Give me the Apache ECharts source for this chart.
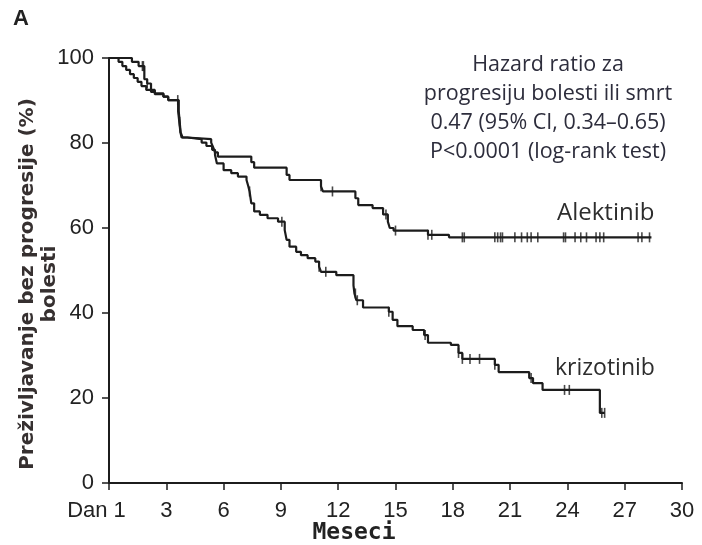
<!DOCTYPE html>
<html><head><meta charset="utf-8">
<script src="https://cdn.jsdelivr.net/npm/echarts@6/dist/echarts.min.js"></script>
<style>html,body{margin:0;padding:0;background:#fff}#c{width:702px;height:545px}</style>
</head><body><div id="c"></div>
<script>
// Kaplan-Meier steps: [month, % survival]
var alektinib = [[0,100],[1.2,99.1],[1.55,98.1],[1.85,95],[2.0,94],[2.2,92.5],[2.4,91.7],[2.85,90.9],[3.1,90.1],[3.65,87.5],[3.7,85],[3.75,82.5],[3.85,81.3],[4.1,80.9],[5.35,80.1],[5.45,79],[5.55,77.8],[5.7,76.8],[7.45,75.5],[7.6,74.2],[9.3,72.5],[9.45,71.3],[11.1,69.8],[11.2,68.6],[12.9,67],[13.05,65.4],[13.8,64.7],[14.35,63.2],[14.6,61.5],[14.7,60],[14.9,59.4],[16.7,58.4],[17.8,57.8],[28.4,57.8]];
var krizotinib = [[0,100],[0.5,99.1],[0.7,98.1],[0.9,97.2],[1.1,96.2],[1.3,95.3],[1.5,94.4],[1.7,93.4],[1.95,92.5],[2.2,92],[2.4,91.5],[2.85,90.9],[3.1,90.1],[3.62,87.5],[3.68,85],[3.74,82.5],[3.8,81.3],[4.1,80.9],[4.85,80.1],[5.1,79.3],[5.4,78.4],[5.55,77.2],[5.65,75.2],[6.0,73.6],[6.4,72.9],[6.75,72.1],[7.2,71.3],[7.3,69.7],[7.36,68.6],[7.45,65.8],[7.6,63.9],[7.9,63.1],[8.3,62.3],[8.85,61.5],[9.2,59.5],[9.3,57.2],[9.45,55.6],[9.8,54.4],[10.05,53.6],[10.4,52.9],[10.8,52.1],[11.0,50.9],[11.1,49.7],[11.9,48.9],[12.8,46.5],[12.85,44.6],[12.95,43],[13.3,41.3],[14.65,40.3],[14.85,38.4],[15.1,36.9],[15.9,36.0],[16.5,34.8],[16.7,33],[17.9,32.5],[18.3,30.6],[18.5,29.2],[20.2,27.8],[20.4,26.1],[22.0,24.7],[22.2,23.5],[22.7,21.9],[25.7,16.5],[25.95,16.5]];
// censoring times (months)
var alektinibCensor = [1.75,1.8,2.0,11.1,11.7,14.5,15.0,16.7,16.9,18.5,18.6,20.2,20.35,20.5,20.6,21.25,21.6,21.9,22.1,22.45,23.8,23.9,24.4,24.7,25.0,25.5,25.7,25.9,27.7,27.9,28.3];
var krizotinibCensor = [3.6,3.7,7.36,9.05,11.0,11.35,12.9,13.0,14.65,16.55,18.3,18.5,18.9,19.4,20.2,22.1,23.85,24.1,25.8,25.95];
var xTicks = [0,3,6,9,12,15,18,21,24,27,30];
var yTicks = [0,20,40,60,80,100];
var annotation = ['Hazard ratio za','progresiju bolesti ili smrt','0.47 (95% CI, 0.34–0.65)','P<0.0001 (log-rank test)'];

function stepAt(curve, t){var v=curve[0][1];for(var i=0;i<curve.length;i++){if(curve[i][0]<=t)v=curve[i][1];}return v;}
function censorPts(curve, times){return times.map(function(t){return [t, stepAt(curve,t)];});}

var chart = echarts.init(document.getElementById('c'));
var ink = '#1c1c1c';
var tickFont = 'Liberation Sans, Arial, sans-serif';
var option = {
  animation:false,
  grid:{left:109,right:20,top:58,bottom:62},
  xAxis:{type:'value',min:0,max:30,interval:3,
    axisLine:{lineStyle:{color:ink,width:2}},
    axisTick:{show:true,length:7,lineStyle:{color:ink,width:1.5}},
    splitLine:{show:false},
    axisLabel:{color:'#222',fontSize:22,fontFamily:tickFont,margin:17,
      formatter:function(v){return v===0?'{d|Dan 1}':String(v);},
      rich:{d:{fontSize:22,fontFamily:tickFont,color:'#222',padding:[0,25,0,0]}}}
  },
  yAxis:{type:'value',min:0,max:100,interval:20,
    axisLine:{show:true,lineStyle:{color:ink,width:2}},
    axisTick:{show:true,length:7,lineStyle:{color:ink,width:1.5}},
    splitLine:{show:false},
    axisLabel:{color:'#222',fontSize:22,fontFamily:tickFont,margin:15}
  },
  series:[
    {type:'line',name:'Alektinib',step:'end',data:alektinib,showSymbol:false,lineStyle:{color:ink,width:2.2}},
    {type:'line',name:'krizotinib',step:'end',data:krizotinib,showSymbol:false,lineStyle:{color:ink,width:2.2}},
    {type:'scatter',data:censorPts(alektinib,alektinibCensor),symbol:'rect',symbolSize:[1.6,10],itemStyle:{color:ink}},
    {type:'scatter',data:censorPts(krizotinib,krizotinibCensor),symbol:'rect',symbolSize:[1.6,10],itemStyle:{color:ink}}
  ],
  graphic:[
    {type:'text',left:13,top:8,style:{text:'A',fontSize:22,fontWeight:'bold',fontFamily:tickFont,fill:'#222'}},
    {type:'text',x:548,y:108,style:{text:annotation.join('\n'),fontSize:21.5,lineHeight:29,textAlign:'center',textVerticalAlign:'middle',fontFamily:'Open Sans, sans-serif',fill:'#2d2d3c'}},
    {type:'text',x:557,y:213,style:{text:'Alektinib',fontSize:24,textVerticalAlign:'middle',fontFamily:'Open Sans, sans-serif',fill:'#2d2d2d'}},
    {type:'text',x:555,y:368,style:{text:'krizotinib',fontSize:23,textVerticalAlign:'middle',fontFamily:'Open Sans, sans-serif',fill:'#2d2d2d'}},
    {type:'text',x:39,y:284,rotation:Math.PI/2,style:{text:'Preživljavanje bez progresije (%)\nbolesti',fontSize:20,lineHeight:22,fontWeight:'bold',textAlign:'center',textVerticalAlign:'middle',fontFamily:'DejaVu Sans, sans-serif',fill:'#363030'}},
    {type:'text',x:354,y:533,style:{text:'Meseci',fontSize:23,fontWeight:'bold',textAlign:'center',textVerticalAlign:'middle',fontFamily:'DejaVu Sans Mono, monospace',fill:'#222'}}
  ]
};
chart.setOption(option);
</script></body></html>
